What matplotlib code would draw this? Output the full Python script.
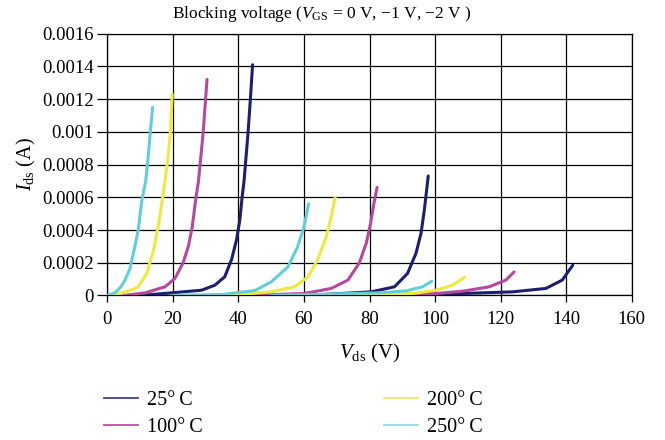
"""Blocking voltage curves, Ids vs Vds at four temperatures and three gate biases."""

import matplotlib

matplotlib.use("Agg")
import matplotlib.pyplot as plt
from matplotlib.ticker import FuncFormatter, MultipleLocator

plt.rcParams["font.family"] = ["Liberation Serif", "DejaVu Serif"]
plt.rcParams["mathtext.fontset"] = "custom"
plt.rcParams["mathtext.rm"] = "Liberation Serif"
plt.rcParams["mathtext.it"] = "Liberation Serif:italic"

temps = ["25°\u2009C", "100°\u2009C", "200°\u2009C", "250°\u2009C"]
colors = ["#1e1e6e", "#b5489f", "#efe93a", "#5fd0da"]
legend_colors = ["#40408f", "#c24ea6", "#ece86e", "#8edbe5"]

# VGS = 0 V
v_25_g0 = [10, 19.6, 28.7, 32.8, 35.8, 37.9, 39.4, 40.4, 41.1, 41.7, 42.9, 43.7, 44.3]
i_25_g0 = [0, 1.6e-5, 3.2e-5, 6.3e-5, 1.14e-4, 2.2e-4, 3.4e-4, 4.6e-4, 6e-4, 7e-4, 9.9e-4, 1.22e-3, 1.41e-3]
v_100_g0 = [5, 11.5, 17.6, 20.6, 23.1, 24.7, 25.9, 26.9, 27.8, 29.2, 30.4]
i_100_g0 = [0, 1.6e-5, 5.3e-5, 1.04e-4, 2e-4, 3e-4, 4.2e-4, 5.8e-4, 7e-4, 9.9e-4, 1.32e-3]
v_200_g0 = [2, 4.4, 7, 9.4, 12, 14, 15.5, 16.7, 17.6, 18.6, 19.2, 19.8]
i_200_g0 = [0, 1.6e-5, 3e-5, 5.3e-5, 1.35e-4, 2.7e-4, 4.2e-4, 5.8e-4, 7e-4, 8.6e-4, 1e-3, 1.23e-3]
v_250_g0 = [0, 2.3, 4, 5.4, 6.9, 8.4, 9.4, 10.5, 11.7, 12.5, 13.1, 13.8]
i_250_g0 = [0, 1.6e-5, 5e-5, 9.4e-5, 1.65e-4, 3e-4, 4e-4, 5.8e-4, 7e-4, 8.6e-4, 1e-3, 1.15e-3]

# VGS = -1 V
v_25_g1 = [40, 65, 80.5, 87.6, 91.6, 94.2, 95.7, 96.7, 97.9]
i_25_g1 = [0, 5e-6, 2.2e-5, 5.3e-5, 1.35e-4, 2.6e-4, 3.8e-4, 5.2e-4, 7.3e-4]
v_100_g1 = [30, 50, 60.2, 68.3, 73.4, 76.9, 79, 80.3, 81.3, 82.3]
i_100_g1 = [0, 5e-6, 1.2e-5, 4.3e-5, 9.4e-5, 2e-4, 3.2e-4, 4.4e-4, 5.6e-4, 6.6e-4]
v_200_g1 = [25, 40, 50, 57.1, 61.2, 64.2, 66.8, 68.3, 69.5]
i_200_g1 = [0, 6e-6, 2.2e-5, 5.3e-5, 1.14e-4, 2.2e-4, 3.6e-4, 4.8e-4, 6e-4]
v_250_g1 = [20, 35, 45, 50, 55.1, 58.1, 60, 61.4]
i_250_g1 = [0, 6e-6, 3e-5, 8.3e-5, 1.75e-4, 3e-4, 4.2e-4, 5.6e-4]

# VGS = -2 V
v_25_g2 = [80, 108.4, 123.6, 133.8, 138.8, 142]
i_25_g2 = [0, 1.2e-5, 2.2e-5, 4.3e-5, 9.4e-5, 1.85e-4]
v_100_g2 = [70, 100.3, 108.4, 116.5, 121.6, 124.1]
i_100_g2 = [0, 1.2e-5, 2.6e-5, 5.3e-5, 9.4e-5, 1.44e-4]
v_200_g2 = [60, 93.2, 100.3, 105.3, 108.9]
i_200_g2 = [0, 1.2e-5, 3.2e-5, 6.3e-5, 1.1e-4]
v_250_g2 = [50, 83, 91.1, 96.2, 99]
i_250_g2 = [0, 1.6e-5, 2.8e-5, 5.3e-5, 8.7e-5]

curves = [
    [(v_25_g0, i_25_g0), (v_25_g1, i_25_g1), (v_25_g2, i_25_g2)],
    [(v_100_g0, i_100_g0), (v_100_g1, i_100_g1), (v_100_g2, i_100_g2)],
    [(v_200_g0, i_200_g0), (v_200_g1, i_200_g1), (v_200_g2, i_200_g2)],
    [(v_250_g0, i_250_g0), (v_250_g1, i_250_g1), (v_250_g2, i_250_g2)],
]

fig = plt.figure(figsize=(6.65, 4.4), dpi=100)
ax = fig.add_axes([0.1615, 0.3285, 0.7885, 0.595])

for k in range(len(temps)):
    for v, i in curves[k]:
        ax.plot(v, i, color=colors[k], lw=2.2, solid_capstyle="round",
                solid_joinstyle="round", zorder=3)

ax.set_xlim(0, 160)
ax.set_ylim(0, 0.0016)
ax.xaxis.set_major_locator(MultipleLocator(20))
ax.yaxis.set_major_locator(MultipleLocator(0.0002))
ax.yaxis.set_major_formatter(FuncFormatter(lambda y, _: "%g" % round(y, 6)))
ax.grid(True, color="black", lw=0.9)
for s in ax.spines.values():
    s.set_color("black")
    s.set_linewidth(0.9)
ax.tick_params(axis="both", direction="out", width=0.9, labelsize=13.5)
ax.tick_params(axis="y", length=7, pad=3)
ax.tick_params(axis="x", length=5, pad=6)

fig.text(0.484, 0.968, r"Blocking voltage ($V_{\rm GS}$ = 0 V, $-$1 V, $-$2 V )",
         fontsize=12.5, ha="center", va="center")
ax.set_xlabel(r"$V_{\rm ds}$ (V)", fontsize=15, labelpad=10)
ax.set_ylabel(r"$I_{\rm ds}$ (A)", fontsize=14.5, labelpad=3)

handles = [plt.Line2D([], [], color=c, lw=1.3) for c in legend_colors]
fig.legend(handles, temps, ncol=2, loc="upper left", bbox_to_anchor=(0.144, 0.13),
           frameon=False, fontsize=14.5, handlelength=1.7, handletextpad=0.45,
           columnspacing=9.0, labelspacing=0.4, borderaxespad=0)

fig.savefig("out.png", dpi=100)
